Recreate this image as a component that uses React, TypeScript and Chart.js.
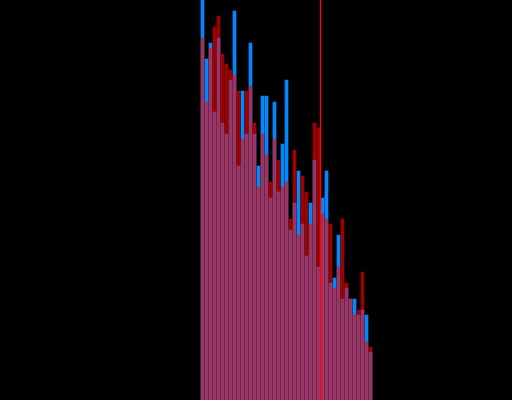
import React, { useEffect, useRef } from "react";
import { Chart, registerables } from "chart.js";

Chart.register(...registerables);

// Histogram bins (category index) – 128 bins on the axis, data occupies bins 50..92
const binCount = 128;
const firstBin = 50;

// Series A (blue) counts per bin, starting at firstBin
const blueCounts = [
  412, 341, 357, 288, 362, 277, 266, 320, 389, 234, 309,
  266, 357, 266, 234, 304, 304, 202, 298, 208, 256, 320,
  170, 197, 229, 176, 144, 197, 240, 133, 202, 229, 117,
  122, 165, 101, 112, 101, 101, 85, 90, 85, 48,
];

// Series B (red) counts per bin, starting at firstBin
const redCounts = [
  362, 298, 352, 373, 384, 346, 336, 330, 325, 309, 261,
  309, 314, 277, 213, 266, 245, 218, 261, 240, 213, 218,
  181, 250, 165, 224, 208, 176, 277, 272, 186, 181, 176,
  112, 133, 181, 117, 101, 85, 90, 128, 58, 53,
];

// Vertical marker position (bin index on the x axis)
const markerBin = 79.5;

const yMax = 400;

const binLabels = Array.from({ length: binCount }, (_, i) => String(i));

function padSeries(values: number[]): (number | null)[] {
  const out: (number | null)[] = new Array(binCount).fill(null);
  values.forEach((v, i) => {
    out[firstBin + i] = v;
  });
  return out;
}

const markerPlugin = {
  id: "markerLine",
  afterDatasetsDraw(chart: any) {
    const { ctx, chartArea, scales } = chart;
    const x = scales.x.getPixelForValue(markerBin);
    ctx.save();
    ctx.strokeStyle = "#ff0000";
    ctx.lineWidth = 1.4;
    ctx.beginPath();
    ctx.moveTo(x, chartArea.top);
    ctx.lineTo(x, chartArea.bottom);
    ctx.stroke();
    ctx.restore();
  },
};

export default function App() {
  const canvasRef = useRef<HTMLCanvasElement | null>(null);

  useEffect(() => {
    if (!canvasRef.current) return;
    const chart = new Chart(canvasRef.current, {
      type: "bar",
      data: {
        labels: binLabels,
        datasets: [
          {
            label: "B",
            data: padSeries(redCounts),
            backgroundColor: "rgba(255, 0, 0, 0.62)",
            borderWidth: 0,
            barThickness: 3,
            grouped: false,
          },
          {
            label: "A",
            data: padSeries(blueCounts),
            backgroundColor: "rgb(0, 136, 255)",
            borderWidth: 0,
            barThickness: 3,
            grouped: false,
          },
        ],
      },
      options: {
        responsive: false,
        animation: false,
        layout: { padding: { left: 0.5, right: 0.5, top: 0, bottom: 0 } },
        plugins: {
          legend: { display: false },
          tooltip: { enabled: false },
        },
        scales: {
          x: { display: false, grid: { display: false } },
          y: { display: false, min: 0, max: yMax, grid: { display: false } },
        },
      },
      plugins: [markerPlugin],
    });
    return () => chart.destroy();
  }, []);

  return (
    <div
      style={{
        position: "fixed",
        left: 0,
        top: 0,
        width: 512,
        height: 400,
        background: "#000",
        overflow: "hidden",
      }}
    >
      <canvas ref={canvasRef} width={513} height={400} style={{ display: "block" }} />
    </div>
  );
}
